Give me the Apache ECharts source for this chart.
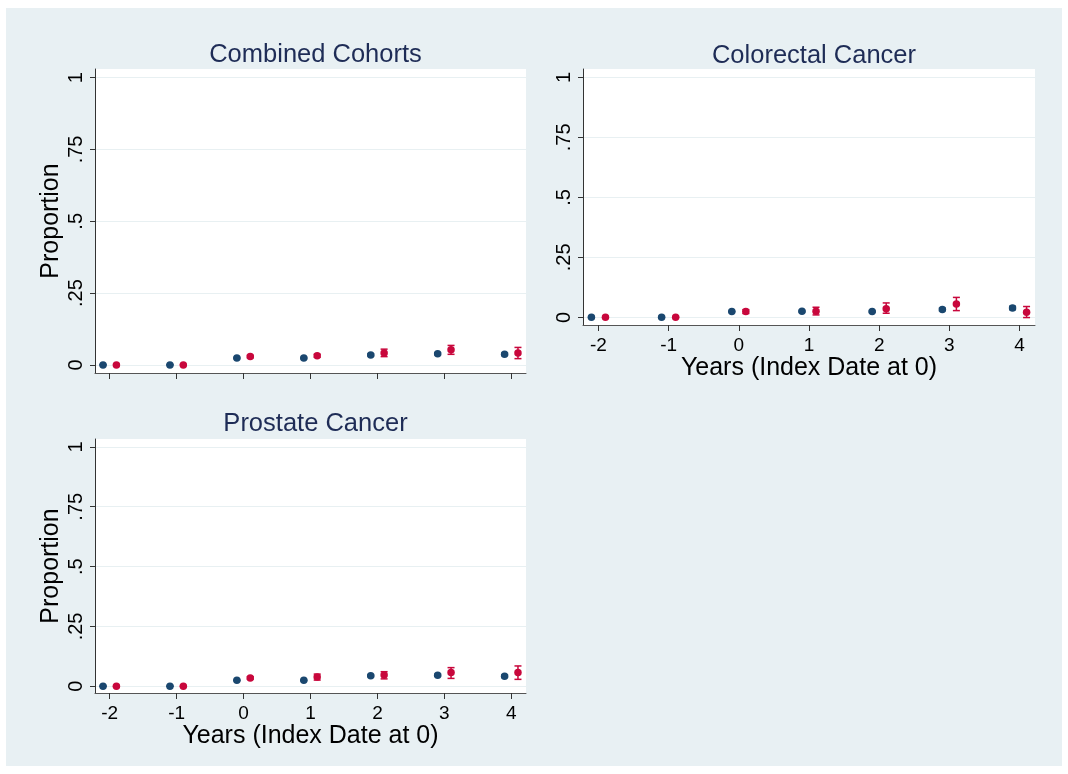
<!DOCTYPE html>
<html>
<head>
<meta charset="utf-8">
<script src="https://cdn.jsdelivr.net/npm/echarts@6/dist/echarts.min.js"></script>
<style>
html,body{margin:0;padding:0;background:#ffffff;}
#chart{width:1068px;height:774px;}
</style>
</head>
<body>
<div id="chart"></div>
<script>
// ---- data ----
const years = [-2, -1, 0, 1, 2, 3, 4];
const yTicks = [0, 0.25, 0.5, 0.75, 1];
const yTickLabels = ['0', '.25', '.5', '.75', '1'];
const panelTitles = ['Combined Cohorts', 'Colorectal Cancer', 'Prostate Cancer'];
const xTitle = 'Years (Index Date at 0)';
const yTitle = 'Proportion';

// Combined Cohorts
const combBlue   = [0, 0, 0.024, 0.024, 0.035, 0.039, 0.037];
const combBlueLo = [0, 0, 0.022, 0.022, 0.032, 0.036, 0.033];
const combBlueHi = [0.001, 0.001, 0.026, 0.026, 0.038, 0.042, 0.041];
const combRed    = [0, 0, 0.029, 0.032, 0.042, 0.053, 0.042];
const combRedLo  = [0, 0, 0.025, 0.027, 0.029, 0.037, 0.022];
const combRedHi  = [0.001, 0.001, 0.033, 0.037, 0.055, 0.068, 0.061];

// Colorectal Cancer
const colBlue   = [0, 0, 0.024, 0.025, 0.024, 0.033, 0.039];
const colBlueLo = [0, 0, 0.022, 0.022, 0.021, 0.028, 0.032];
const colBlueHi = [0.001, 0.001, 0.026, 0.028, 0.027, 0.038, 0.046];
const colRed    = [0, 0, 0.024, 0.025, 0.036, 0.056, 0.021];
const colRedLo  = [0, 0, 0.016, 0.010, 0.017, 0.028, -0.001];
const colRedHi  = [0.001, 0.001, 0.032, 0.042, 0.060, 0.083, 0.045];

// Prostate Cancer
const proBlue   = [0, 0, 0.025, 0.025, 0.044, 0.046, 0.042];
const proBlueLo = [0, 0, 0.023, 0.023, 0.041, 0.042, 0.037];
const proBlueHi = [0.001, 0.001, 0.027, 0.027, 0.047, 0.050, 0.047];
const proRed    = [0, 0, 0.035, 0.039, 0.047, 0.058, 0.058];
const proRedLo  = [0, 0, 0.030, 0.026, 0.031, 0.033, 0.029];
const proRedHi  = [0.001, 0.001, 0.040, 0.051, 0.061, 0.078, 0.085];

// ---- styling ----
const BLUE = '#1a476f';
const RED = '#c8073c';
const TITLE_COLOR = '#1e2c56';
const FONT = '"Liberation Sans", Arial, sans-serif';
const OFFSET = 0.1;

const panels = [
  {blue: combBlue, blueLo: combBlueLo, blueHi: combBlueHi, red: combRed, redLo: combRedLo, redHi: combRedHi,
   grid: {left: 95, top: 69, width: 431, height: 304}, ymin: -0.028, ymax: 1.03, xLabels: false, yName: true},
  {blue: colBlue, blueLo: colBlueLo, blueHi: colBlueHi, red: colRed, redLo: colRedLo, redHi: colRedHi,
   grid: {left: 583, top: 69, width: 452, height: 256}, ymin: -0.032, ymax: 1.035, xLabels: true, yName: false},
  {blue: proBlue, blueLo: proBlueLo, blueHi: proBlueHi, red: proRed, redLo: proRedLo, redHi: proRedHi,
   grid: {left: 95, top: 439, width: 431, height: 254}, ymin: -0.028, ymax: 1.033, xLabels: true, yName: true}
];
const titleTops = [37, 38, 406];

function errorRenderer(color) {
  return function (params, api) {
    const x = api.value(0), lo = api.value(1), hi = api.value(2);
    const p1 = api.coord([x, lo]);
    const p2 = api.coord([x, hi]);
    const w = 3.5;
    return {
      type: 'group',
      children: [
        {type: 'line', shape: {x1: p1[0], y1: p1[1], x2: p2[0], y2: p2[1]}, style: {stroke: color, lineWidth: 1.5}},
        {type: 'line', shape: {x1: p1[0] - w, y1: p1[1], x2: p1[0] + w, y2: p1[1]}, style: {stroke: color, lineWidth: 1.5}},
        {type: 'line', shape: {x1: p2[0] - w, y1: p2[1], x2: p2[0] + w, y2: p2[1]}, style: {stroke: color, lineWidth: 1.5}}
      ]
    };
  };
}

const grids = [], xAxes = [], yAxes = [], series = [], titles = [];
panels.forEach((p, i) => {
  grids.push(Object.assign({backgroundColor: '#ffffff', show: true, borderWidth: 0, containLabel: false}, p.grid));
  titles.push({
    text: panelTitles[i],
    left: p.grid.left + p.grid.width / 2,
    top: titleTops[i],
    textAlign: 'center',
    textStyle: {fontFamily: FONT, fontSize: 25.5, fontWeight: 'normal', color: TITLE_COLOR}
  });
  xAxes.push({
    gridIndex: i, type: 'value', min: -2.22, max: 4.22,
    name: p.xLabels ? xTitle : '', nameLocation: 'middle', nameGap: 30,
    nameTextStyle: {fontFamily: FONT, fontSize: 25, color: '#000'},
    axisLine: {show: true, onZero: false, lineStyle: {color: '#555', width: 1}},
    axisTick: {show: true, inside: false, length: 6, customValues: years, lineStyle: {color: '#333'}},
    axisLabel: {show: p.xLabels, customValues: years, margin: 11, fontFamily: FONT, fontSize: 19, color: '#000',
                formatter: v => String(v)},
    splitLine: {show: false}
  });
  yAxes.push({
    gridIndex: i, type: 'value', min: p.ymin, max: p.ymax,
    name: p.yName ? yTitle : '', nameLocation: 'middle', nameGap: 31, nameRotate: 90,
    nameTextStyle: {fontFamily: FONT, fontSize: 25, color: '#000'},
    axisLine: {show: true, onZero: false, lineStyle: {color: '#333', width: 1}},
    axisTick: {show: true, inside: false, length: 5, customValues: yTicks, lineStyle: {color: '#333'}},
    axisLabel: {show: true, customValues: yTicks, rotate: 90, margin: 9, fontFamily: FONT, fontSize: 20, color: '#000',
                formatter: v => { const k = yTicks.findIndex(t => Math.abs(t - v) < 1e-9); return k >= 0 ? yTickLabels[k] : ''; }},
    splitLine: {show: true, lineStyle: {color: '#e8f0f2', width: 1}}
  });
  const blueErr = years.map((y, k) => [y - OFFSET, p.blueLo[k], p.blueHi[k]]);
  const redErr = years.map((y, k) => [y + OFFSET, p.redLo[k], p.redHi[k]]);
  series.push({
    type: 'custom', xAxisIndex: i, yAxisIndex: i, renderItem: errorRenderer(BLUE),
    data: blueErr, encode: {x: 0, y: [1, 2]}, clip: false, z: 2, silent: true
  });
  series.push({
    type: 'custom', xAxisIndex: i, yAxisIndex: i, renderItem: errorRenderer(RED),
    data: redErr, encode: {x: 0, y: [1, 2]}, clip: false, z: 2, silent: true
  });
  series.push({
    type: 'scatter', xAxisIndex: i, yAxisIndex: i, symbol: 'circle', symbolSize: 7.5,
    itemStyle: {color: BLUE, opacity: 1}, z: 3,
    data: years.map((y, k) => [y - OFFSET, p.blue[k]])
  });
  series.push({
    type: 'scatter', xAxisIndex: i, yAxisIndex: i, symbol: 'circle', symbolSize: 7.5,
    itemStyle: {color: RED, opacity: 1}, z: 3,
    data: years.map((y, k) => [y + OFFSET, p.red[k]])
  });
});

const chart = echarts.init(document.getElementById('chart'), null, {renderer: 'canvas'});
chart.setOption({
  animation: false,
  backgroundColor: '#ffffff',
  graphic: [{type: 'rect', z: -10, silent: true, shape: {x: 6, y: 8, width: 1056, height: 758}, style: {fill: '#e8f0f3'}}],
  title: titles,
  grid: grids,
  xAxis: xAxes,
  yAxis: yAxes,
  series: series
});
</script>
</body>
</html>
